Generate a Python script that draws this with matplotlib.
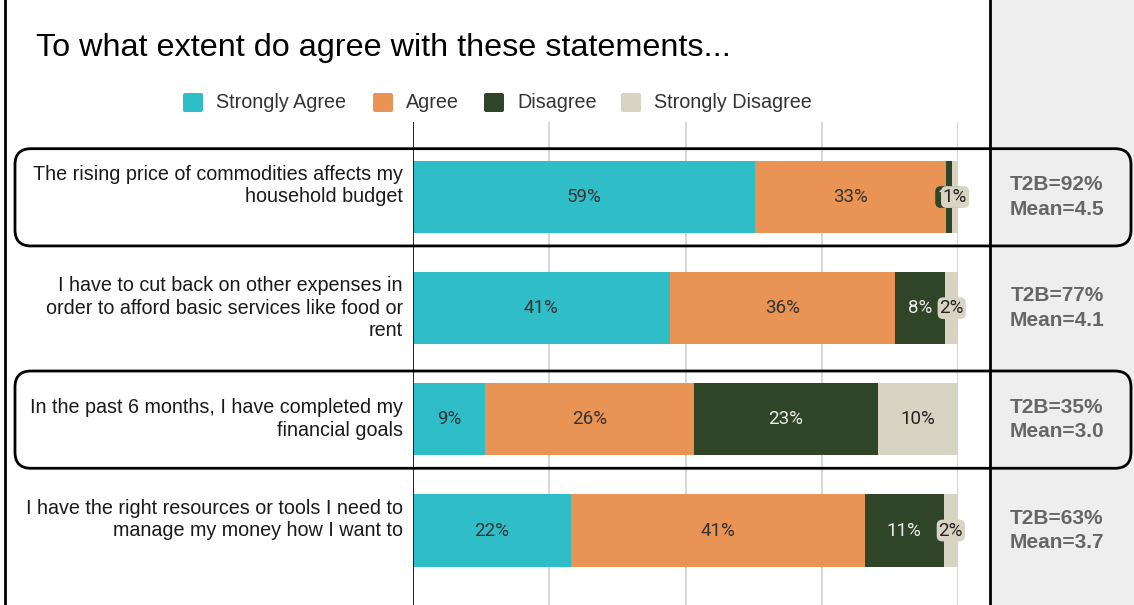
import matplotlib
matplotlib.use("Agg")
import matplotlib.pyplot as plt
from matplotlib.patches import Rectangle, FancyBboxPatch
from matplotlib.transforms import IdentityTransform
import numpy as np

# ---- data -------------------------------------------------------------
statements = [
    "The rising price of commodities affects my\nhousehold budget",
    "I have to cut back on other expenses in\norder to afford basic services like food or\nrent",
    "In the past 6 months, I have completed my\nfinancial goals",
    "I have the right resources or tools I need to\nmanage my money how I want to",
]
series_names = ["Strongly Agree", "Agree", "Disagree", "Strongly Disagree"]
strongly_agree = [59, 41, 9, 22]
agree = [33, 36, 26, 41]
disagree = [1, 8, 23, 11]
strongly_disagree = [1, 2, 10, 2]
t2b = [92, 77, 35, 63]
means = [4.5, 4.1, 3.0, 3.7]
highlighted = [True, False, True, False]

# ---- style ------------------------------------------------------------
colors = ["#2fbec7", "#e99455", "#304427", "#d8d4c3"]
label_colors = ["#333333", "#333333", "#ececec", "#222222"]
base_font = "Liberation Sans"
value_font = "Roboto"

W, H, DPI = 1134, 605, 100
fig = plt.figure(figsize=(W / DPI, H / DPI), dpi=DPI)
fig.patch.set_facecolor("white")


def fx(px):
    return px / W


def fy(py):
    return 1 - py / H


# right-hand summary panel
fig.patches.append(Rectangle((fx(990), 0), fx(W - 990), 1, transform=fig.transFigure,
                             facecolor="#eeeeee", edgecolor="none", zorder=0))
fig.add_artist(plt.Line2D([fx(990), fx(990)], [0, 1], transform=fig.transFigure,
                          color="black", lw=2, zorder=5))
fig.add_artist(plt.Line2D([fx(5), fx(5)], [0, 1], transform=fig.transFigure,
                          color="black", lw=2, zorder=5))

# ---- axes -------------------------------------------------------------
ax_top = 122
ax = fig.add_axes([fx(413), 0, fx(958 - 413), (H - ax_top) / H])
ax.set_facecolor("none")
n = len(statements)
ypos = np.arange(n)
ax.set_xlim(0, 1)
ax.set_ylim(n - 1 + 0.67, -0.675)

values = np.array([strongly_agree, agree, disagree, strongly_disagree], dtype=float)
totals = values.sum(axis=0)
shares = values / totals

for g in [0.25, 0.5, 0.75, 1.0]:
    ax.axvline(g, color="#d0d0d0", lw=1.2, zorder=0)
ax.axvline(0, color="#222222", lw=1.4, zorder=3)

left = np.zeros(n)
for k in range(4):
    ax.barh(ypos, shares[k], left=left, height=0.65, color=colors[k],
            edgecolor="none", zorder=2, label=series_names[k])
    for i in range(n):
        cx = left[i] + shares[k][i] / 2
        bbox = None
        if k >= 2:
            bbox = dict(boxstyle="round,pad=0.1,rounding_size=0.3",
                        facecolor=colors[k], edgecolor="none")
        ax.text(cx, ypos[i], f"{values[k][i]:.0f}%", ha="center", va="center",
                fontsize=13.5, color=label_colors[k], family=value_font,
                bbox=bbox, zorder=4 + k)
    left = left + shares[k]

ax.set_xticks([])
ax.set_yticks([])
for s in ax.spines.values():
    s.set_visible(False)

# statement labels to the left of the bars
label_offsets = [11.5, 0, 0, 11]
for i, txt in enumerate(statements):
    ax.annotate(txt, xy=(0, ypos[i]), xycoords="data",
                xytext=(-10, label_offsets[i]), textcoords="offset pixels",
                ha="right", va="center", fontsize=14.2, color="#1a1a1a",
                family=base_font, linespacing=1.25, annotation_clip=False)

# summary figures in the right panel
for i in range(n):
    ypix = ax.transData.transform((0, ypos[i]))[1]
    fig.text(fx(1057), ypix / H, f"T2B={t2b[i]}%\nMean={means[i]:.1f}",
             ha="center", va="center", fontsize=15, fontweight="bold",
             color="#666666", family=base_font, linespacing=1.38)

# highlight frames around selected rows
for i in range(n):
    if not highlighted[i]:
        continue
    y0 = ax.transData.transform((0, ypos[i] + 0.44))[1]
    y1 = ax.transData.transform((0, ypos[i] - 0.435))[1]
    box = FancyBboxPatch((15, y0), 1131 - 15, y1 - y0,
                         boxstyle="round,pad=0,rounding_size=16",
                         transform=IdentityTransform(), facecolor="none",
                         edgecolor="black", lw=2, zorder=6)
    fig.patches.append(box)

# ---- title and legend -------------------------------------------------
fig.text(fx(36), fy(48), "To what extent do agree with these statements...",
         ha="left", va="center", fontsize=23.3, color="black", family=base_font)

legend_x = [183, 373, 484, 621]
for k, name in enumerate(series_names):
    fig.patches.append(FancyBboxPatch((legend_x[k], H - 112), 20, 19,
                                      boxstyle="round,pad=0,rounding_size=2",
                                      transform=IdentityTransform(),
                                      facecolor=colors[k], edgecolor="none"))
    fig.text(fx(legend_x[k] + 33), fy(102), name, ha="left", va="center",
             fontsize=14.2, color="#333333", family=base_font)

fig.savefig("out.png", dpi=DPI)
